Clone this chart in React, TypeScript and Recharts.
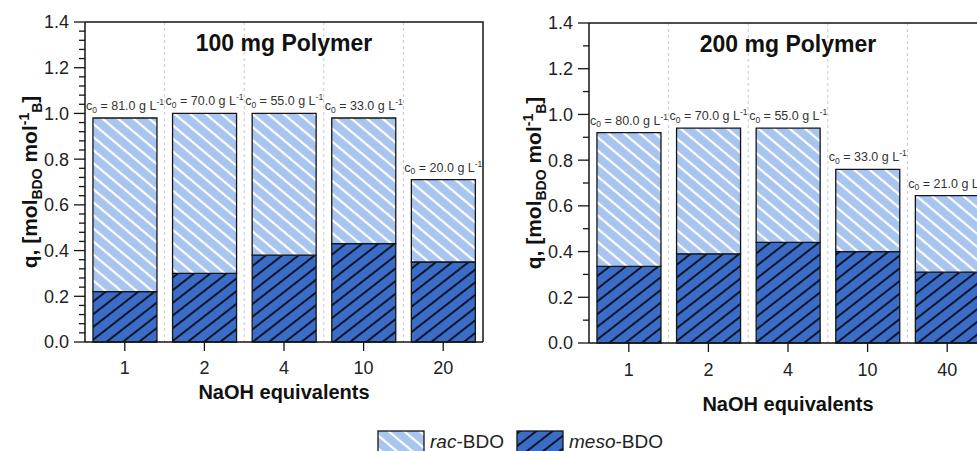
import { BarChart, Bar, XAxis, YAxis, CartesianGrid, LabelList, Label } from 'recharts';

const FONT = "Arial, 'Liberation Sans', Helvetica, sans-serif";

const yMajorTicks = [0, 0.2, 0.4, 0.6, 0.8, 1.0, 1.2, 1.4];

// 100 mg polymer
const naohLeft = ['1', '2', '4', '10', '20'];
const mesoLeft = [0.22, 0.3, 0.38, 0.43, 0.35];
const racLeft = [0.76, 0.7, 0.62, 0.55, 0.36];
const c0Left = [81.0, 70.0, 55.0, 33.0, 20.0];

// 200 mg polymer
const naohRight = ['1', '2', '4', '10', '40'];
const mesoRight = [0.335, 0.39, 0.44, 0.4, 0.31];
const racRight = [0.585, 0.55, 0.5, 0.36, 0.335];
const c0Right = [80.0, 70.0, 55.0, 33.0, 21.0];

const RAC_FILL = '#a8c5f0';
const MESO_FILL = '#3b6cc7';
const INK = '#151515';

const CHART_W = 500;
const CHART_H = 451;
const Y_AXIS_W = 85;
const RIGHT_M = 17;
const Y_TICK_SIZE = 11;
const Y_TICK_MARGIN = 5;
const TOP_AXIS_H = 1;
const PLOT_H = 320;

const buildRows = (cats: string[], meso: number[], rac: number[], c0: number[]) =>
  cats.map((naoh, i) => ({ naoh, meso: meso[i], rac: rac[i], c0: c0[i] }));

const buildTicks = (minor: number) => {
  const out: number[] = [];
  yMajorTicks.forEach((t, i) => {
    out.push(t);
    const next = yMajorTicks[i + 1];
    if (next === undefined) return;
    for (let k = 1; k <= minor; k++) out.push(+(t + ((next - t) * k) / (minor + 1)).toFixed(4));
  });
  return out;
};

const Patterns = ({ id }: { id: string }) => (
  <defs>
    <pattern id={`rac-${id}`} patternUnits="userSpaceOnUse" width={10} height={10} patternTransform="rotate(-50)">
      <rect width={10} height={10} fill={RAC_FILL} />
      <line x1={5} y1={0} x2={5} y2={10} stroke="#fff" strokeWidth={2.2} />
    </pattern>
    <pattern id={`meso-${id}`} patternUnits="userSpaceOnUse" width={10} height={10} patternTransform="rotate(52)">
      <rect width={10} height={10} fill={MESO_FILL} />
      <line x1={5} y1={0} x2={5} y2={10} stroke="#000" strokeWidth={1.6} />
    </pattern>
  </defs>
);

const YTick = (props: any) => {
  const { x, y, payload } = props;
  const axisX = Number(x) + Y_TICK_SIZE + Y_TICK_MARGIN;
  const v = payload.value as number;
  const major = yMajorTicks.some((t) => Math.abs(t - v) < 1e-6);
  return (
    <g>
      <line x1={axisX - (major ? 11 : 6)} x2={axisX} y1={y} y2={y} stroke={INK} strokeWidth={1.3} />
      {major && (
        <text x={axisX - 16} y={y} dy="0.36em" textAnchor="end" fontFamily={FONT} fontSize={18} fill="#222">
          {v.toFixed(1)}
        </text>
      )}
    </g>
  );
};

const C0Label = (props: any) => {
  const { x, y, width, value } = props;
  const cx = Number(x) + Number(width) / 2;
  return (
    <text x={cx} y={Number(y) - 8} textAnchor="middle" fontFamily={FONT} fontSize={12.5} fill="#333">
      c
      <tspan fontSize={8.5} dy={2.5}>0</tspan>
      <tspan dy={-2.5}>{` = ${Number(value).toFixed(1)} g L`}</tspan>
      <tspan fontSize={8.5} dy={-5}>-1</tspan>
    </text>
  );
};

const YTitle = (props: any) => {
  const vb = props.viewBox;
  const cx = vb.x + 37;
  const cy = vb.y + vb.height / 2;
  return (
    <text x={cx} y={cy} transform={`rotate(-90 ${cx} ${cy})`} textAnchor="middle" fontFamily={FONT} fontWeight="bold" fontSize={21} fill="#111">
      q, [mol
      <tspan fontSize={14} dy={5}>BDO</tspan>
      <tspan dy={-5}> mol</tspan>
      <tspan fontSize={14} dy={-8}>-1</tspan>
      <tspan fontSize={14} dy={13}>B</tspan>
      <tspan dy={-5}>]</tspan>
    </text>
  );
};

const XTitle = (props: any) => {
  const vb = props.viewBox;
  return (
    <text x={vb.x + vb.width / 2} y={vb.y + vb.height} textAnchor="middle" fontFamily={FONT} fontWeight="bold" fontSize={20} fill="#111">
      NaOH equivalents
    </text>
  );
};

const makeTitle = (title: string) => (props: any) => {
  const vb = props.viewBox;
  return (
    <text x={vb.x + vb.width / 2} y={vb.y + TOP_AXIS_H + 29} textAnchor="middle" fontFamily={FONT} fontWeight="bold" fontSize={23} fill="#111">
      {title}
    </text>
  );
};

// top and right border of the plot box
const Frame = ({ top }: { top: number }) => {
  const left = Y_AXIS_W;
  const right = CHART_W - RIGHT_M;
  return (
    <svg width={CHART_W} height={CHART_H} style={{ position: 'absolute', left: 0, top: 0, pointerEvents: 'none' }}>
      <path d={`M${left},${top}H${right}V${top + PLOT_H}`} fill="none" stroke={INK} strokeWidth={1.5} />
    </svg>
  );
};

interface PanelProps {
  id: string;
  title: string;
  rows: Array<{ naoh: string; meso: number; rac: number; c0: number }>;
  minor: number;
  top: number;
  xHeight: number;
  xTickMargin: number;
}

const Panel = ({ id, title, rows, minor, top, xHeight, xTickMargin }: PanelProps) => {
  const n = rows.length;
  const plotBottom = top + PLOT_H;
  return (
    <div style={{ position: 'relative', width: CHART_W, height: CHART_H }}>
      <BarChart
        width={CHART_W}
        height={CHART_H}
        data={rows}
        margin={{ top: top - TOP_AXIS_H, right: RIGHT_M, left: 0, bottom: CHART_H - plotBottom - xHeight }}
        barCategoryGap="10%"
      >
        <Patterns id={id} />
        <CartesianGrid
          horizontal={false}
          stroke="#c9c9c9"
          strokeDasharray="3 3"
          verticalCoordinatesGenerator={({ offset }: any) =>
            Array.from({ length: n - 1 }, (_, i) => offset.left + (offset.width * (i + 1)) / n)
          }
        />
        <XAxis
          dataKey="naoh"
          interval={0}
          height={xHeight}
          tickSize={9}
          tickMargin={xTickMargin}
          axisLine={{ stroke: INK, strokeWidth: 1.5 }}
          tickLine={{ stroke: INK, strokeWidth: 1.3 }}
          tick={{ fill: '#222', fontSize: 18, fontFamily: FONT }}
        >
          <Label content={XTitle} />
        </XAxis>
        <XAxis
          xAxisId="frame"
          orientation="top"
          dataKey="naoh"
          height={TOP_AXIS_H}
          tick={false}
          tickLine={false}
          axisLine={false}
        >
          <Label content={makeTitle(title)} />
        </XAxis>
        <YAxis
          type="number"
          domain={[0, 1.4]}
          ticks={buildTicks(minor)}
          interval={0}
          width={Y_AXIS_W}
          tickSize={Y_TICK_SIZE}
          tickMargin={Y_TICK_MARGIN}
          tickLine={false}
          tick={YTick}
          axisLine={{ stroke: INK, strokeWidth: 1.5 }}
        >
          <Label content={YTitle} />
        </YAxis>
        <Bar dataKey="meso" stackId="q" fill={`url(#meso-${id})`} stroke={INK} strokeWidth={1.3} isAnimationActive={false} />
        <Bar dataKey="rac" stackId="q" fill={`url(#rac-${id})`} stroke={INK} strokeWidth={1.3} isAnimationActive={false}>
          <LabelList dataKey="c0" content={C0Label} />
        </Bar>
      </BarChart>
      <Frame top={top} />
    </div>
  );
};

const Legend = () => (
  <svg width={977} height={26} style={{ position: 'absolute', left: 0, top: 425 }}>
    <Patterns id="legend" />
    <rect x={378} y={6} width={46} height={24} fill="url(#rac-legend)" stroke={INK} strokeWidth={1.3} />
    <text x={430} y={23} fontFamily={FONT} fontSize={19} fill="#222">
      <tspan fontStyle="italic">rac</tspan>-BDO
    </text>
    <rect x={517} y={6} width={46} height={24} fill="url(#meso-legend)" stroke={INK} strokeWidth={1.3} />
    <text x={569} y={23} fontFamily={FONT} fontSize={19} fill="#222">
      <tspan fontStyle="italic">meso</tspan>-BDO
    </text>
  </svg>
);

export default function App() {
  const left = buildRows(naohLeft, mesoLeft, racLeft, c0Left);
  const right = buildRows(naohRight, mesoRight, racRight, c0Right);
  return (
    <div style={{ position: 'absolute', left: 0, top: 0, width: 977, height: 451, overflow: 'hidden', background: '#fff' }}>
      <div style={{ position: 'absolute', left: 0, top: 0 }}>
        <Panel id="p100" title="100 mg Polymer" rows={left} minor={4} top={22} xHeight={57} xTickMargin={10} />
      </div>
      <div style={{ position: 'absolute', left: 504, top: 0 }}>
        <Panel id="p200" title="200 mg Polymer" rows={right} minor={1} top={23} xHeight={68} xTickMargin={11} />
      </div>
      <Legend />
    </div>
  );
}
